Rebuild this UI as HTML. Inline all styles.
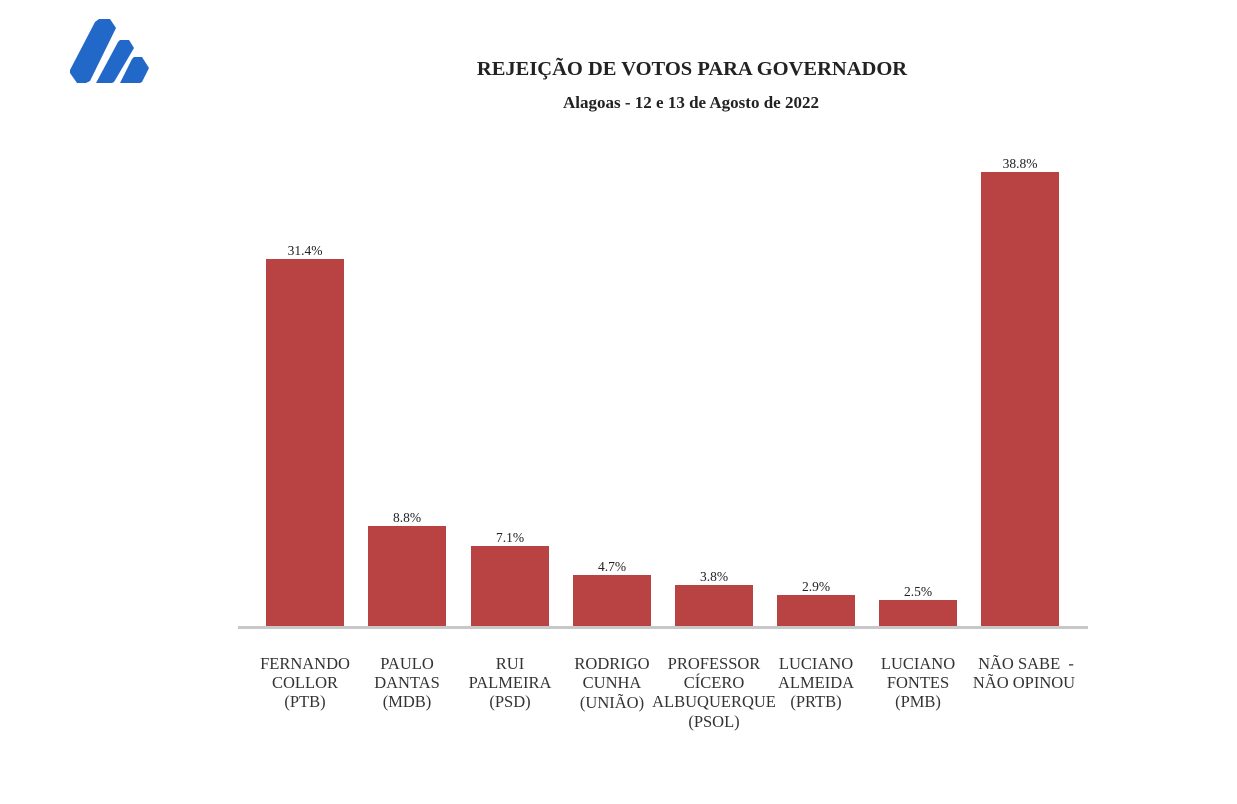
<!DOCTYPE html>
<html><head><meta charset="utf-8"><style>
body{margin:0;width:1237px;height:799px;background:#fff;overflow:hidden;font-family:"Liberation Serif",serif;}
</style></head><body>
<svg width="1237" height="799" xmlns="http://www.w3.org/2000/svg" font-family="Liberation Serif, serif">
<g fill="#2268c9">
<polygon points="70,70 95,22 99,19 110,19 116,28 90,81 86,83 77,83 70,73"/>
<polygon points="96,83 118,42 120,40 129,40 134,48 114,82 112,83"/>
<polygon points="120,83 132,59 134,57 142,57 149,68 142,82 140,83"/>
</g>
<text x="692" y="75" text-anchor="middle" font-size="20.5" font-weight="bold" fill="#222">REJEIÇÃO DE VOTOS PARA GOVERNADOR</text>
<text x="691" y="108" text-anchor="middle" font-size="17" font-weight="bold" fill="#222">Alagoas - 12 e 13 de Agosto de 2022</text>
<g fill="#b94242">
<rect x="266" y="259" width="78" height="368"/>
<rect x="368" y="526" width="78" height="101"/>
<rect x="471" y="546" width="78" height="81"/>
<rect x="573" y="575" width="78" height="52"/>
<rect x="675" y="585" width="78" height="42"/>
<rect x="777" y="595" width="78" height="32"/>
<rect x="879" y="600" width="78" height="27"/>
<rect x="981" y="172" width="78" height="455"/>
</g>
<rect x="238" y="626" width="850" height="3" fill="#c8c8c8"/>
<g font-size="13.5" fill="#222" text-anchor="middle">
<text x="305" y="255">31.4%</text>
<text x="407" y="522">8.8%</text>
<text x="510" y="542">7.1%</text>
<text x="612" y="571">4.7%</text>
<text x="714" y="581">3.8%</text>
<text x="816" y="591">2.9%</text>
<text x="918" y="596">2.5%</text>
<text x="1020" y="168">38.8%</text>
</g>
<g font-size="16.5" fill="#333" text-anchor="middle">
<text x="305" y="669">FERNANDO</text><text x="305" y="688">COLLOR</text><text x="305" y="707">(PTB)</text>
<text x="407" y="669">PAULO</text><text x="407" y="688">DANTAS</text><text x="407" y="707">(MDB)</text>
<text x="510" y="669">RUI</text><text x="510" y="688">PALMEIRA</text><text x="510" y="707">(PSD)</text>
<text x="612" y="669">RODRIGO</text><text x="612" y="688">CUNHA</text><text x="612" y="708">(UNIÃO)</text>
<text x="714" y="669">PROFESSOR</text><text x="714" y="688">CÍCERO</text><text x="714" y="707">ALBUQUERQUE</text><text x="714" y="727">(PSOL)</text>
<text x="816" y="669">LUCIANO</text><text x="816" y="688">ALMEIDA</text><text x="816" y="707">(PRTB)</text>
<text x="918" y="669">LUCIANO</text><text x="918" y="688">FONTES</text><text x="918" y="707">(PMB)</text>
<text x="1026" y="669" xml:space="preserve">NÃO SABE  -</text><text x="1024" y="688">NÃO OPINOU</text>
</g>
</svg>
</body></html>
